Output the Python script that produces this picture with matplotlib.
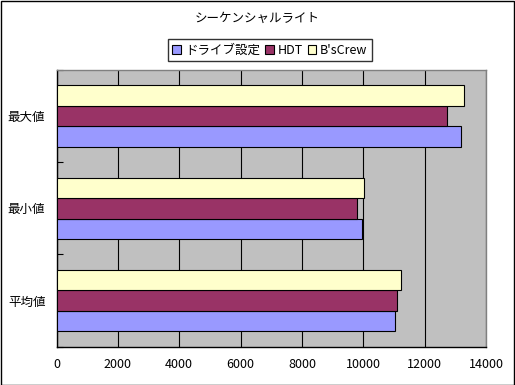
import matplotlib
matplotlib.use("Agg")
import matplotlib.pyplot as plt
from matplotlib.patches import Rectangle, Patch
import numpy as np

plt.rcParams['font.family'] = ['Noto Sans CJK JP', 'DejaVu Sans']

title = "シーケンシャルライト"
categories = ["平均値", "最小値", "最大値"]
series_names = ["ドライブ設定", "HDT", "B'sCrew"]
drive = [11040, 9965, 13200]
hdt = [11110, 9800, 12740]
bscrew = [11240, 10030, 13290]
colors = ["#9999FF", "#993366", "#FFFFCC"]
xticks = [0, 2000, 4000, 6000, 8000, 10000, 12000, 14000]

W, H = 515, 385
fig = plt.figure(figsize=(W/100, H/100), dpi=100)
fig.patch.set_facecolor("white")
fig.add_artist(Rectangle((0.5/W, 0.5/H), (W-1.5)/W, (H-1.5)/H, transform=fig.transFigure,
                         fill=False, edgecolor="black", linewidth=1.0))

left, right, top, bottom = 56.5, 486, 70, 346.7
ax = fig.add_axes([left/W, (H-bottom)/H, (right-left)/W, (bottom-top)/H])
ax.set_facecolor("#C0C0C0")

y = np.arange(len(categories))
bh = 0.222
data = [drive, hdt, bscrew]
for i, (vals, c, n) in enumerate(zip(data, colors, series_names)):
    ax.barh(y + (i-1)*bh, vals, height=bh, color=c, edgecolor="black",
            linewidth=0.8, label=n, zorder=3)

ax.set_xlim(0, 14000)
ax.set_ylim(-0.5, len(categories)-0.5)
ax.set_xticks(xticks)
ax.set_xticklabels([str(t) for t in xticks], fontsize=9)
ax.set_yticks(y)
ax.set_yticklabels(categories, fontsize=9)
ax.set_yticks(np.arange(-0.5, len(categories)), minor=True)
ax.tick_params(axis='y', which='major', length=0, pad=8)
ax.tick_params(axis='y', which='minor', length=4, direction='in', width=0.8)
ax.tick_params(axis='x', length=0, pad=8)
ax.grid(axis='x', color='black', linewidth=0.8, zorder=1)
ax.set_axisbelow(True)
for s in ['left', 'bottom']:
    ax.spines[s].set_color('black')
    ax.spines[s].set_linewidth(1.0)
for s in ['top', 'right']:
    ax.spines[s].set_color('#808080')
    ax.spines[s].set_linewidth(1.0)

fig.text(257/W, 1-18/H, title, ha='center', va='center', fontsize=9)

handles = [Patch(facecolor=c, edgecolor='black', linewidth=0.8) for c in colors]
leg = fig.legend(handles, series_names, loc='center', bbox_to_anchor=(270/W, 1-50/H),
                 ncol=3, fontsize=9, frameon=True, fancybox=False, shadow=False,
                 handlelength=0.7, handleheight=0.7, handletextpad=0.3,
                 columnspacing=0.4, borderpad=0.35, borderaxespad=0)
leg.get_frame().set_edgecolor('black')
leg.get_frame().set_linewidth(1.0)

fig.savefig("out.png", dpi=100)
